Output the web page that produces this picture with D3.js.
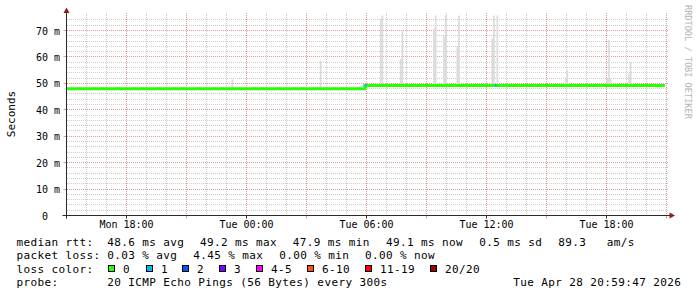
<!DOCTYPE html>
<html>
<head>
<meta charset="utf-8">
<script src="https://cdn.jsdelivr.net/npm/d3@7"></script>
<style>
  body { margin: 0; background: #fff; }
  text { font-family: "DejaVu Sans Mono", monospace; white-space: pre; }
</style>
</head>
<body>
<div id="chart"></div>
<script>

// graph window (30 hours)
const timeStart = "2026-04-27T15:00:00";
const timeEnd = "2026-04-28T21:00:00";

// median rtt, as steps [from .. to] in ms
const medianFrom = ["2026-04-27T15:00:00", "2026-04-28T05:55:00"];
const medianTo = ["2026-04-28T05:55:00", "2026-04-28T20:55:00"];
const medianMs = [48.0, 49.2];

// smoke: 5 min samples where the pings spread above the median
const smokeTimes = [
    "2026-04-27T23:15:00", "2026-04-28T03:40:00",
    "2026-04-28T06:40:00", "2026-04-28T06:45:00",
    "2026-04-28T07:40:00", "2026-04-28T07:45:00",
    "2026-04-28T09:20:00", "2026-04-28T09:25:00",
    "2026-04-28T09:50:00", "2026-04-28T09:55:00",
    "2026-04-28T10:30:00", "2026-04-28T10:35:00",
    "2026-04-28T12:15:00", "2026-04-28T12:20:00", "2026-04-28T12:30:00",
    "2026-04-28T15:55:00", "2026-04-28T16:00:00",
    "2026-04-28T18:00:00", "2026-04-28T18:05:00", "2026-04-28T18:10:00",
    "2026-04-28T19:05:00", "2026-04-28T19:10:00"
];
const smokeLow = [
    47.5, 47.5,
    48.8, 48.8,
    48.8, 48.8,
    48.8, 48.8,
    48.8, 48.8,
    48.8, 48.8,
    48.8, 48.8, 48.8,
    48.8, 48.8,
    48.8, 48.8, 48.8,
    48.8, 48.8
];
const smokeHigh = [
    51.5, 58.6,
    74.4, 77.0,
    59.3, 70.0,
    70.6, 77.0,
    68.0, 77.0,
    64.0, 77.0,
    67.0, 77.0, 77.0,
    51.7, 54.9,
    52.0, 66.5, 52.0,
    53.6, 58.0
];

// samples with lost pings (count out of 20)
const lossTimes = ["2026-04-28T05:55:00", "2026-04-28T12:25:00"];
const lossCounts = [1, 1];
const lossValues = [49.2, 49.2];

// y axis ticks
const yMajorTicks = [0, 10, 20, 30, 40, 50, 60, 70];
const yMax = 75.68;

// x axis labels
const xLabels = ["Mon 18:00", "Tue 00:00", "Tue 06:00", "Tue 12:00", "Tue 18:00"];

// legend
const rttStats = ["48.6 ms avg", "49.2 ms max", "47.9 ms min", "49.1 ms now", "0.5 ms sd", "89.3", "am/s"];
const lossStats = ["0.03 % avg", "4.45 % max", "0.00 % min", "0.00 % now"];
const lossLabels = ["0", "1", "2", "3", "4-5", "6-10", "11-19", "20/20"];
const lossColors = ["#26ff00", "#00b8ff", "#0059ff", "#7e00ff", "#ff00ff", "#ff5500", "#ff0000", "#a10000"];
const probeText = "20 ICMP Echo Pings (56 Bytes) every 300s";
const stampText = "Tue Apr 28 20:59:47 2026";

const parse = d3.isoParse;
const colorFor = n => n === 0 ? lossColors[0] : n === 1 ? lossColors[1] : n === 2 ? lossColors[2]
    : n === 3 ? lossColors[3] : n <= 5 ? lossColors[4] : n <= 10 ? lossColors[5]
    : n <= 19 ? lossColors[6] : lossColors[7];

const width = 697, height = 297;
const plot = {left: 66.5, right: 666.5, top: 15.5, bottom: 215.5};

const svg = d3.select("#chart").append("svg")
    .attr("width", width)
    .attr("height", height)
    .style("display", "block");

svg.append("rect").attr("width", width).attr("height", height).attr("fill", "#fff");

const x = d3.scaleTime()
    .domain([parse(timeStart), parse(timeEnd)])
    .range([plot.left, plot.right]);
const y = d3.scaleLinear()
    .domain([0, yMax])
    .range([plot.bottom, plot.top]);

// crisp pixel positions for the dotted grid
const px = v => Math.round(v - 0.5) + 0.5;

// grid
const grid = svg.append("g").attr("class", "grid");
const minorGrey = "#cdcdcd", majorRed = "#e09a9a";

grid.selectAll(".hminor")
    .data(d3.range(2, yMax, 2).filter(v => v % 10 !== 0))
    .join("line")
    .attr("x1", 67).attr("x2", 669)
    .attr("y1", d => px(y(d))).attr("y2", d => px(y(d)))
    .attr("stroke", minorGrey).attr("stroke-dasharray", "1,1");

grid.selectAll(".vminor")
    .data(x.ticks(d3.timeHour.every(1)).filter(d => d.getHours() % 3 !== 0))
    .join("line")
    .attr("x1", d => px(x(d))).attr("x2", d => px(x(d)))
    .attr("y1", 13).attr("y2", 215)
    .attr("stroke", "#c8c8c8").attr("stroke-dasharray", "1,1");

grid.selectAll(".hmajor")
    .data(yMajorTicks.filter(v => v > 0))
    .join("line")
    .attr("x1", 67).attr("x2", 669)
    .attr("y1", d => px(y(d))).attr("y2", d => px(y(d)))
    .attr("stroke", majorRed).attr("stroke-dasharray", "1,1");

const majorTimes = x.ticks(d3.timeHour.every(3));
grid.selectAll(".vmajor")
    .data(majorTimes)
    .join("line")
    .attr("x1", d => px(x(d))).attr("x2", d => px(x(d)))
    .attr("y1", 13).attr("y2", 215)
    .attr("stroke", majorRed).attr("stroke-dasharray", "1,1");

// smoke
const step = 5 * 60 * 1000;
svg.append("g").selectAll("rect")
    .data(smokeTimes.map((t, i) => ({t: parse(t), lo: smokeLow[i], hi: Math.min(smokeHigh[i], yMax)})))
    .join("rect")
    .attr("x", d => x(d.t))
    .attr("width", d => x(new Date(+d.t + step)) - x(d.t))
    .attr("y", d => y(d.hi))
    .attr("height", d => y(d.lo) - y(d.hi))
    .attr("fill", "#dadada");

// median line
const steps = medianMs.map((v, i) => ({from: parse(medianFrom[i]), to: parse(medianTo[i]), v: v}));
const medianPts = [];
steps.forEach(s => { medianPts.push([s.from, s.v]); medianPts.push([s.to, s.v]); });
svg.append("path")
    .datum(medianPts)
    .attr("fill", "none")
    .attr("stroke", lossColors[0])
    .attr("stroke-width", 3)
    .attr("d", d3.line().x(d => x(d[0])).y(d => y(d[1])));

// loss coloured samples on top of the median
svg.append("g").selectAll("line")
    .data(lossTimes.map((t, i) => ({t: parse(t), n: lossCounts[i], v: lossValues[i]})))
    .join("line")
    .attr("x1", d => x(d.t)).attr("x2", d => x(new Date(+d.t + step)))
    .attr("y1", d => y(d.v)).attr("y2", d => y(d.v))
    .attr("stroke", d => colorFor(d.n))
    .attr("stroke-width", 3);

// axes
const axisColor = "#2a2a2a", arrowColor = "#8b1e1e";
svg.selectAll(".ytick")
    .data(yMajorTicks)
    .join("line")
    .attr("x1", plot.left - 3).attr("x2", plot.left)
    .attr("y1", d => px(y(d))).attr("y2", d => px(y(d)))
    .attr("stroke", d => d === 0 ? axisColor : majorRed);
svg.selectAll(".xtick")
    .data(majorTimes)
    .join("line")
    .attr("x1", d => px(x(d))).attr("x2", d => px(x(d)))
    .attr("y1", plot.bottom).attr("y2", plot.bottom + 3)
    .attr("stroke", d => d.getHours() % 6 === 0 ? axisColor : majorRed);

svg.append("line")
    .attr("x1", plot.left).attr("x2", plot.left)
    .attr("y1", plot.bottom + 3).attr("y2", 9)
    .attr("stroke", axisColor);
svg.append("line")
    .attr("x1", plot.left - 4).attr("x2", plot.right + 4)
    .attr("y1", plot.bottom).attr("y2", plot.bottom)
    .attr("stroke", axisColor);
svg.append("path")
    .attr("d", `M${plot.left - 3},${13}L${plot.left + 3},${13}L${plot.left},${7.5}Z`)
    .attr("fill", arrowColor);
svg.append("path")
    .attr("d", `M${plot.right + 3},${plot.bottom - 3}L${plot.right + 3},${plot.bottom + 3}L${plot.right + 8.5},${plot.bottom}Z`)
    .attr("fill", arrowColor);

// tick labels
svg.selectAll(".ylabel")
    .data(yMajorTicks)
    .join("text")
    .attr("x", 60)
    .attr("y", d => Math.round(y(d)) + 4)
    .attr("text-anchor", "end")
    .attr("font-size", 10)
    .attr("fill", "#000")
    .text(d => d === 0 ? "0  " : d + " m");

svg.selectAll(".xlabel")
    .data(majorTimes.filter(d => d.getHours() % 6 === 0))
    .join("text")
    .attr("x", d => x(d))
    .attr("y", 228)
    .attr("text-anchor", "middle")
    .attr("font-size", 10)
    .text((d, i) => xLabels[i]);

svg.append("text")
    .attr("transform", "translate(15,114) rotate(-90)")
    .attr("text-anchor", "middle")
    .attr("font-size", 11)
    .text("Seconds");

svg.append("text")
    .attr("transform", "translate(685,5) rotate(90)")
    .attr("font-size", 8.6)
    .attr("fill", "#b4b4b4")
    .text("RRDTOOL / TOBI OETIKER");

// legend
const legend = svg.append("g")
    .attr("font-size", 11)
    .attr("letter-spacing", 0.38)
    .attr("fill", "#000");
const rowY = [245.5, 259, 272.5, 286];
const valueX = 107.3;

legend.append("text").attr("x", 16.5).attr("y", rowY[0]).text("median rtt:");
const rttX = [valueX, 200, 292.7, 386, 479.3, 558.3, 606.7];
rttStats.forEach((s, i) => legend.append("text").attr("x", rttX[i]).attr("y", rowY[0]).text(s));

legend.append("text").attr("x", 16.5).attr("y", rowY[1]).text("packet loss:");
const lossX = [valueX, 193.3, 279.3, 365];
lossStats.forEach((s, i) => legend.append("text").attr("x", lossX[i]).attr("y", rowY[1]).text(s));

legend.append("text").attr("x", 16.5).attr("y", rowY[2]).text("loss color:");
const boxX = [108, 145.7, 182.3, 219, 255.7, 306.7, 365, 430];
lossLabels.forEach((s, i) => {
    const bx = Math.round(boxX[i]);
    legend.append("rect")
        .attr("x", bx + 0.5).attr("y", rowY[2] - 7)
        .attr("width", 6).attr("height", 6)
        .attr("fill", lossColors[i])
        .attr("stroke", "#000");
    legend.append("text").attr("x", bx + 15).attr("y", rowY[2]).text(s);
});

legend.append("text").attr("x", 16.5).attr("y", rowY[3]).text("probe:");
legend.append("text").attr("x", valueX).attr("y", rowY[3]).text(probeText);
legend.append("text").attr("x", 513.3).attr("y", rowY[3]).text(stampText);

</script>
</body>
</html>
